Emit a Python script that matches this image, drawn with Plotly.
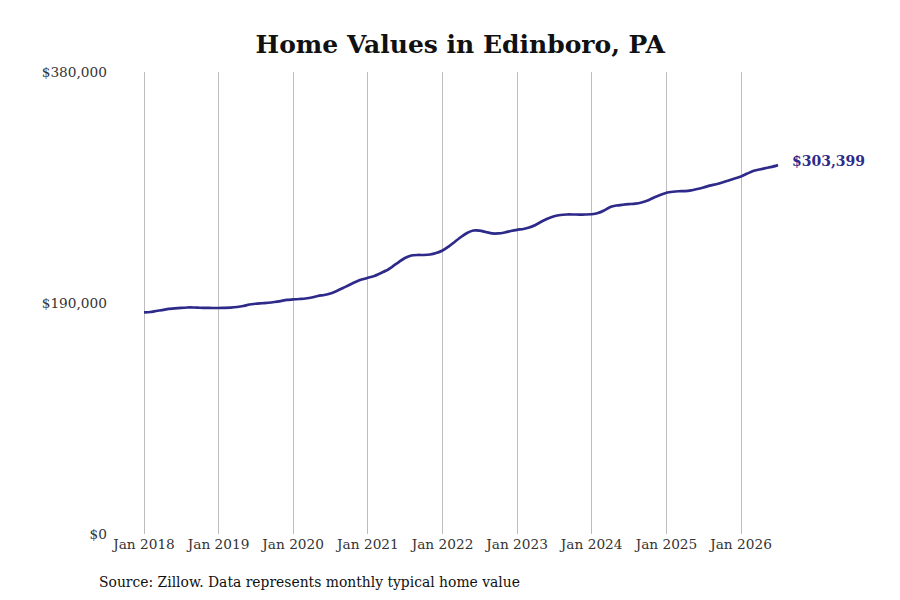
import plotly.graph_objects as go
import pandas as pd

dates = pd.date_range("2018-01-01", "2026-07-01", freq="MS")

values = [
    # 2018
    182300, 182600, 183400, 184200, 185100, 185600, 186000, 186300, 186300, 186100, 186000, 185900,
    # 2019
    185900, 186000, 186200, 186700, 187500, 188800, 189400, 189800, 190200, 190800, 191600, 192500,
    # 2020
    192900, 193300, 193700, 194500, 195800, 196600, 197800, 199900, 202300, 204800, 207300, 209300,
    # 2021
    210800, 212200, 214300, 216700, 220000, 223700, 227000, 229100, 229500, 229500, 229900, 231100,
    # 2022
    233200, 236500, 240200, 244300, 247600, 249600, 249600, 248400, 247200, 247200, 248000, 249200,
    # 2023
    250200, 250900, 252100, 254200, 257000, 259500, 261300, 262400, 262800, 262800, 262750, 262800,
    # 2024
    263000, 264000, 266100, 269000, 270200, 270800, 271300, 271700, 272700, 274300, 276800, 278800,
    # 2025
    280700, 281500, 281900, 282100, 282700, 283800, 285000, 286500, 287700, 289100, 290800, 292400,
    # 2026
    294000, 296500, 298600, 299800, 300900, 302000, 303399,
]

y_ticks = [0, 190000, 380000]
y_tick_labels = ["$0", "$190,000", "$380,000"]

title_text = "Home Values in Edinboro, PA"
source_text = "Source: Zillow. Data represents monthly typical home value"
last_label = "$303,399"

line_color = "#2e2a8a"
font_family = "DejaVu Serif"

fig = go.Figure()
fig.add_trace(go.Scatter(
    x=dates, y=values, mode="lines",
    line=dict(color=line_color, width=2.7, shape="spline", smoothing=0.6),
    hoverinfo="x+y", showlegend=False,
))

fig.add_annotation(
    x=dates[-1], y=values[-1], text="<b>" + last_label + "</b>",
    showarrow=False, xanchor="left", xshift=12, yshift=4,
    font=dict(family=font_family, size=14, color=line_color),
)

fig.add_annotation(
    xref="paper", yref="paper", x=-0.026, y=-0.104,
    text=source_text, showarrow=False, xanchor="left", yanchor="middle",
    font=dict(family=font_family, size=13.9, color="#111111"),
)

fig.update_layout(
    width=892, height=592,
    paper_bgcolor="white", plot_bgcolor="white",
    margin=dict(l=107, r=95, t=64, b=66),
    title=dict(text="<b>" + title_text + "</b>", x=0.507, xanchor="center",
               y=0.939, yanchor="middle",
               font=dict(family=font_family, size=25, color="#111111")),
    font=dict(family=font_family, size=13.7, color="#333333"),
    xaxis=dict(
        range=["2017-08-12", "2026-11-10"],
        dtick="M12", tick0="2018-01-01", tickformat="%b %Y",
        showgrid=True, gridcolor="#bdbdbd", gridwidth=1,
        zeroline=False, showline=False, ticks="",
        tickfont=dict(family=font_family, size=13.7, color="#333333"),
    ),
    yaxis=dict(
        range=[0, 380000], tickvals=y_ticks, ticktext=y_tick_labels,
        showgrid=False, zeroline=False, showline=False, ticks="",
        ticklabelstandoff=7,
        tickfont=dict(family=font_family, size=13.7, color="#333333"),
    ),
)

fig.write_html("out.html")
